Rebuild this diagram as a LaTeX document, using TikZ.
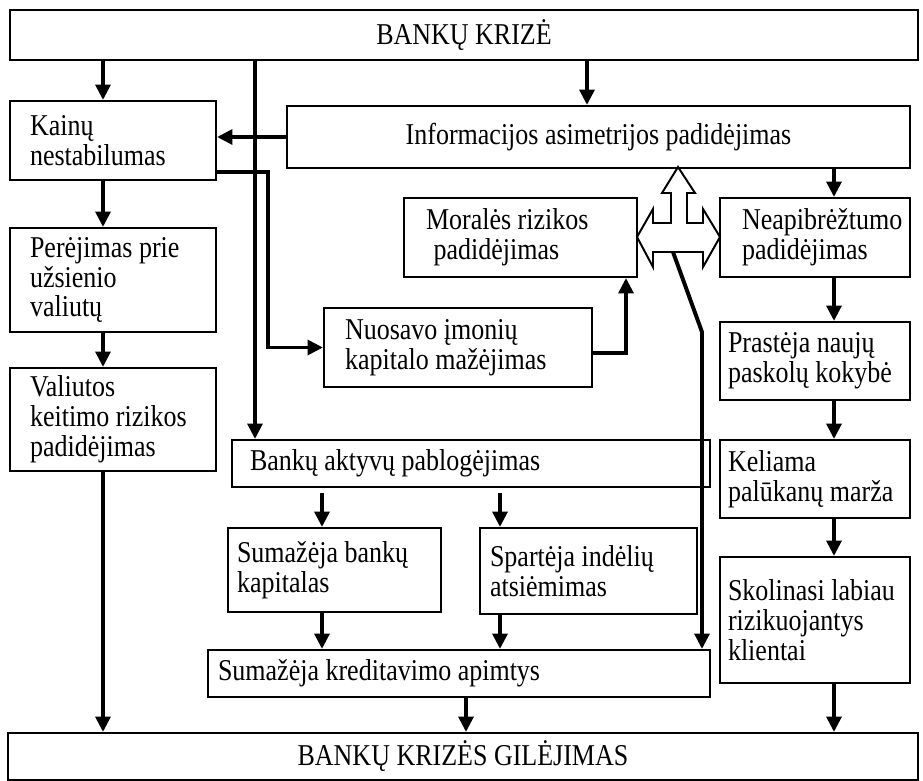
\documentclass[tikz,border=0pt]{standalone}
\usepackage{fontspec}
\setmainfont{Liberation Serif}[FakeStretch=0.86]
\usetikzlibrary{arrows.meta}
\newdimen\pxu \pxu=0.025cm
\tikzset{
  blok/.style={draw, line width=1.4pt, inner ysep=0pt, align=flush left, font=\fontsize{21.5}{21.3}\selectfont},
  arr/.style={line width=2.8pt, -{Triangle[width=10.5pt,length=11pt]}},
  lin/.style={line width=2.8pt},
}
\begin{document}
\begin{tikzpicture}[x=0.025cm, y=-0.025cm]
\useasboundingbox (0,0) rectangle (923,781);
% boxes
\draw (464,35) node[blok, align=center, minimum width=908\pxu, minimum height=50\pxu](krize) {BANKŲ KRIZĖ};
\draw (463,756.5) node[blok, align=center, minimum width=910\pxu, minimum height=47\pxu](gilej) {BANKŲ KRIZĖS GILĖJIMAS};
\draw (113,140.5) node[blok, minimum width=206\pxu, minimum height=79\pxu, inner xsep=20\pxu, text width=166\pxu](kain) {Kainų\\nestabilumas};
\draw (113,280) node[blok, minimum width=206\pxu, minimum height=104\pxu, inner xsep=20\pxu, text width=166\pxu](perej) {Perėjimas prie\\užsienio\\valiutų};
\draw (113,419.5) node[blok, minimum width=206\pxu, minimum height=103\pxu, inner xsep=20\pxu, text width=166\pxu](valiut) {Valiutos\\keitimo rizikos\\padidėjimas};
\draw (598.5,137) node[blok, align=center, minimum width=623\pxu, minimum height=62\pxu](info) {Informacijos asimetrijos padidėjimas};
\draw (520.5,237.5) node[blok, minimum width=233\pxu, minimum height=79\pxu, inner xsep=22\pxu, text width=189\pxu](moral) {Moralės rizikos\\\hspace*{0.25em}padidėjimas};
\draw (458,347.5) node[blok, minimum width=268\pxu, minimum height=79\pxu, inner xsep=21\pxu, text width=226\pxu](nuos) {Nuosavo įmonių\\kapitalo mažėjimas};
\draw (815,237.5) node[blok, minimum width=190\pxu, minimum height=79\pxu, inner xsep=22\pxu, text width=146\pxu](neap) {Neapibrėžtumo\\padidėjimas};
\draw (815,361) node[blok, minimum width=190\pxu, minimum height=78\pxu, inner xsep=8\pxu, text width=174\pxu](prast) {Prastėja naujų\\paskolų kokybė};
\draw (815,479) node[blok, minimum width=190\pxu, minimum height=78\pxu, inner xsep=8\pxu, text width=174\pxu](kel) {Keliama\\palūkanų marža};
\draw (815,620) node[blok, minimum width=190\pxu, minimum height=126\pxu, inner xsep=8\pxu, text width=174\pxu](skol) {Skolinasi labiau\\rizikuojantys\\klientai};
\draw (471,463.5) node[blok, minimum width=478\pxu, minimum height=47\pxu, inner xsep=18\pxu, text width=442\pxu](akt) {Bankų aktyvų pablogėjimas};
\draw (334.5,570) node[blok, minimum width=213\pxu, minimum height=84\pxu, inner xsep=9\pxu, text width=195\pxu](sbk) {Sumažėja bankų\\kapitalas};
\draw (588.5,571) node[blok, minimum width=217\pxu, minimum height=86\pxu, inner xsep=10\pxu, text width=197\pxu](spart) {Spartėja indėlių\\atsiėmimas};
\draw (459,673.5) node[blok, minimum width=502\pxu, minimum height=47\pxu, inner xsep=10\pxu, text width=482\pxu](kred) {Sumažėja kreditavimo apimtys};
% hollow arrow
\draw[line width=1.4pt, fill=white] (678,167) -- (695,193) -- (687,193) -- (687,223) -- (703,223) -- (703,209)
  -- (720,237) -- (703,267) -- (703,252) -- (653,252) -- (653,267) -- (637,237) -- (653,209) -- (653,223)
  -- (671,223) -- (671,193) -- (662,193) -- cycle;
% columns
\coordinate (lx) at (103,0);
\coordinate (vx) at (255,0);
\coordinate (ix) at (587,0);
\coordinate (rx) at (834,0);
\coordinate (ax) at (322,0);
\coordinate (bx) at (500,0);
\coordinate (kx) at (466,0);
\coordinate (ex) at (268,172);
\coordinate (mx) at (626,353);
\coordinate (hstart) at (673,252);
\coordinate (hbend) at (702,332);
% connectors
\draw[arr] (lx |- krize.south) -- (lx |- kain.north);
\draw[arr] (lx |- kain.south) -- (lx |- perej.north);
\draw[arr] (lx |- perej.south) -- (lx |- valiut.north);
\draw[arr] (lx |- valiut.south) -- (lx |- gilej.north);
\draw[arr] (vx |- krize.south) -- (vx |- akt.north);
\draw[arr] (ix |- krize.south) -- (ix |- info.north);
\draw[arr] (info.west) -- (kain.east |- info.west);
\draw[arr] (kain.east |- ex) -- (ex) |- (nuos.west);
\draw[arr] (nuos.east |- mx) -| (mx |- moral.south);
\draw[arr] (rx |- info.south) -- (rx |- neap.north);
\draw[arr] (rx |- neap.south) -- (rx |- prast.north);
\draw[arr] (rx |- prast.south) -- (rx |- kel.north);
\draw[arr] (rx |- kel.south) -- (rx |- skol.north);
\draw[arr] (rx |- skol.south) -- (rx |- gilej.north);
\draw[arr, shorten <=5\pxu] (ax |- akt.south) -- (ax |- sbk.north);
\draw[arr, shorten <=5\pxu] (bx |- akt.south) -- (bx |- spart.north);
\draw[arr] (ax |- sbk.south) -- (ax |- kred.north);
\draw[arr] (bx |- spart.south) -- (bx |- kred.north);
\draw[arr] (kx |- kred.south) -- (kx |- gilej.north);
\draw[arr] (hstart) -- (hbend) -- (hbend |- kred.north);
\end{tikzpicture}
\end{document}
